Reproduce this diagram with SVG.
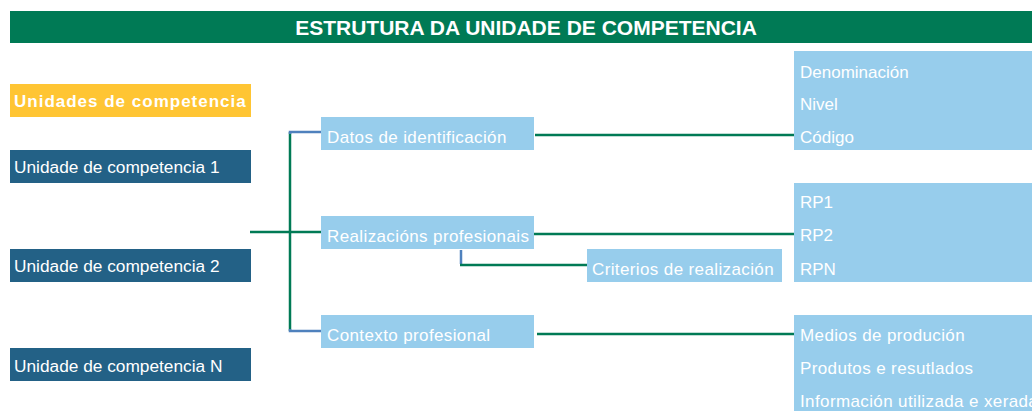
<svg xmlns="http://www.w3.org/2000/svg" width="1032" height="411" viewBox="0 0 1032 411">
<style>
text{font-family:"Liberation Sans",Arial,sans-serif;fill:#ffffff;font-size:17px}
.sp{letter-spacing:0.38px}
.hdr{fill:#007a55}
.uc{fill:#236186}
.lb{fill:#97cdec}
.g{stroke:#007a55;stroke-width:2.5;fill:none}
.b{stroke:#4f81bd;stroke-width:2.5;fill:none}
</style>
<rect width="1032" height="411" fill="#ffffff"/>
<g id="header">
<rect class="hdr" x="10" y="11" width="1022" height="32"/>
<text x="526" y="35" text-anchor="middle" style="font-size:21px;font-weight:bold">ESTRUTURA DA UNIDADE DE COMPETENCIA</text>
</g>
<g id="connectors">
<line class="g" x1="250" y1="232" x2="321" y2="232"/>
<line class="g" x1="290" y1="132" x2="290" y2="331"/>
<polyline class="b" points="321,132 290,132 290,134"/>
<polyline class="b" points="321,331 290,331 290,329"/>
<line class="b" x1="461" y1="250" x2="461" y2="264"/>
<line class="g" x1="460" y1="265" x2="587" y2="265"/>
<line class="g" x1="535" y1="135" x2="794" y2="135"/>
<line class="g" x1="534" y1="234" x2="794" y2="234"/>
<line class="g" x1="537" y1="334" x2="794" y2="334"/>
</g>
<g id="unidades-title">
<rect x="10" y="84" width="241" height="33" fill="#ffc533"/>
<text x="14" y="107" style="font-weight:bold;letter-spacing:1px">Unidades de competencia</text>
</g>
<g id="uc1">
<rect class="uc" x="10" y="150" width="241" height="33"/>
<text x="14" y="173" style="font-size:17.3px">Unidade de competencia 1</text>
</g>
<g id="uc2">
<rect class="uc" x="10" y="249" width="241" height="33"/>
<text x="14" y="272" style="font-size:17.3px">Unidade de competencia 2</text>
</g>
<g id="ucn">
<rect class="uc" x="10" y="348" width="241" height="33"/>
<text x="14" y="372" style="font-size:17.3px">Unidade de competencia N</text>
</g>
<g id="datos">
<rect class="lb" x="321" y="117" width="213" height="33"/>
<text class="sp" x="327" y="143">Datos de identificación</text>
</g>
<g id="realizacions">
<rect class="lb" x="321" y="216" width="213" height="33"/>
<text class="sp" x="327" y="242">Realizacións profesionais</text>
</g>
<g id="contexto">
<rect class="lb" x="321" y="315" width="213" height="33"/>
<text class="sp" x="327" y="341">Contexto profesional</text>
</g>
<g id="criterios">
<rect class="lb" x="587" y="249" width="195" height="33"/>
<text class="sp" x="592" y="275">Criterios de realización</text>
</g>
<g id="ident-items">
<rect class="lb" x="794" y="51" width="238" height="99"/>
<text x="800" y="78">Denominación</text>
<text x="800" y="110">Nivel</text>
<text x="800" y="143">Código</text>
</g>
<g id="rp-items">
<rect class="lb" x="794" y="183" width="238" height="99"/>
<text x="800" y="208">RP1</text>
<text x="800" y="241">RP2</text>
<text x="800" y="275">RPN</text>
</g>
<g id="contexto-items">
<rect class="lb" x="794" y="315" width="238" height="96"/>
<text class="sp" x="800" y="341">Medios de produción</text>
<text class="sp" x="800" y="374">Produtos e resutlados</text>
<text class="sp" x="800" y="407">Información utilizada e xerada</text>
</g>
</svg>
